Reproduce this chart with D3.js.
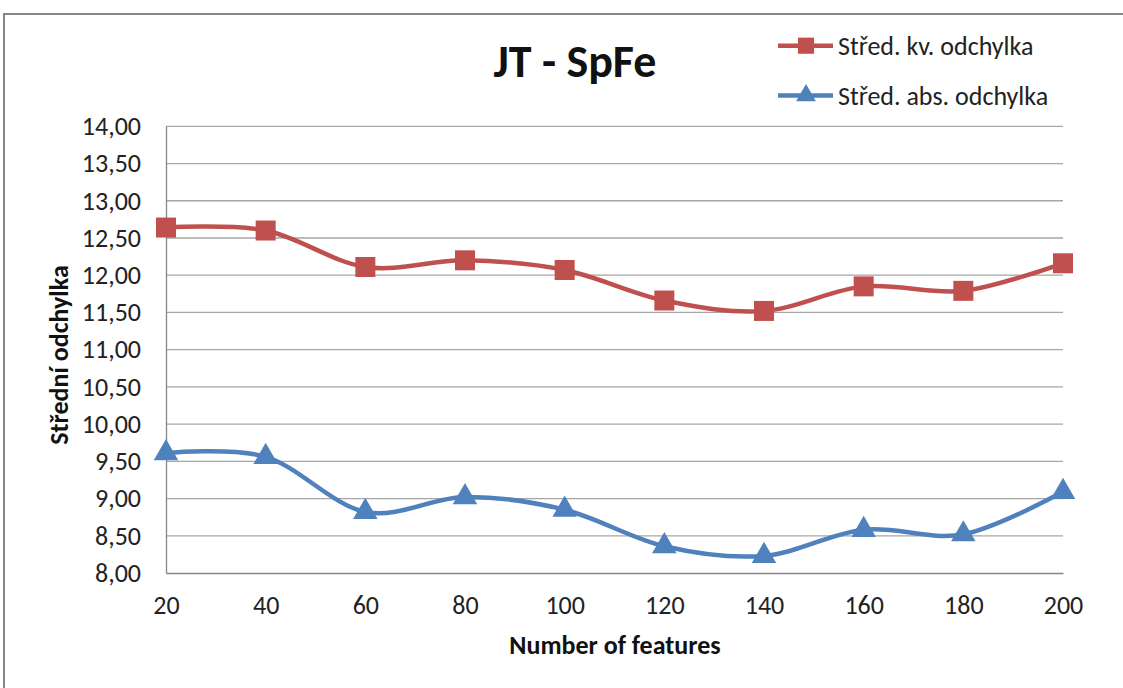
<!DOCTYPE html>
<html><head><meta charset="utf-8">
<script src="https://cdn.jsdelivr.net/npm/d3@7"></script>
<style>
html,body{margin:0;padding:0;background:#fff;}
svg text{font-family:Carlito,Calibri,"Open Sans","Liberation Sans",sans-serif;}
</style></head>
<body><svg id="c" width="1123" height="688"></svg>
<script>
const categories = [20, 40, 60, 80, 100, 120, 140, 160, 180, 200];
const kvValues = [12.64, 12.60, 12.11, 12.20, 12.07, 11.66, 11.52, 11.85, 11.79, 12.16];
const absValues = [9.61, 9.56, 8.82, 9.02, 8.85, 8.36, 8.23, 8.58, 8.52, 9.09];
const yTicks = [8, 8.5, 9, 9.5, 10, 10.5, 11, 11.5, 12, 12.5, 13, 13.5, 14];
const seriesNames = ["Střed. kv. odchylka", "Střed. abs. odchylka"];
const title = "JT - SpFe";
const xTitle = "Number of features";
const yTitle = "Střední odchylka";

const svg = d3.select("#c");
const m = {left:166, right:1063, top:126.3, bottom:573};
const x = d3.scalePoint().domain(categories).range([m.left, m.right]);
const y = d3.scaleLinear().domain([8, 14]).range([m.bottom, m.top]);

// chart frame
svg.append("rect").attr("x",4).attr("y",14).attr("width",1130).attr("height",700)
  .attr("fill","none").attr("stroke","#868686").attr("stroke-width",2);

// gridlines
svg.append("g").selectAll("line").data(yTicks.slice(1)).join("line")
  .attr("x1",m.left).attr("x2",m.right).attr("y1",d=>y(d)).attr("y2",d=>y(d))
  .attr("stroke","#a6a6a6").attr("stroke-width",1.3);

// axes
const fmt = d => d.toFixed(2).replace(".", ",");
const yAxis = svg.append("g").attr("transform",`translate(${m.left},0)`)
  .call(d3.axisLeft(y).tickValues(yTicks).tickFormat(fmt).tickSize(0).tickPadding(25));
yAxis.select(".domain").attr("stroke","#868686").attr("stroke-width",1.3);
yAxis.selectAll("text").attr("font-size",26).attr("fill","#222");

const xAxis = svg.append("g").attr("transform",`translate(0,${m.bottom})`)
  .call(d3.axisBottom(x).tickSize(0).tickPadding(23));
xAxis.select(".domain").attr("stroke","#868686").attr("stroke-width",1.3);
xAxis.selectAll("text").attr("font-size",26).attr("fill","#222");

// titles
svg.append("text").attr("x",575).attr("y",77).attr("text-anchor","middle")
  .attr("font-size",46).attr("font-weight","bold").attr("fill","#111").text(title);
svg.append("text").attr("x",615).attr("y",654).attr("text-anchor","middle")
  .attr("font-size",26).attr("font-weight","bold").attr("fill","#111").text(xTitle);
svg.append("text").attr("transform","translate(68,355) rotate(-90)").attr("text-anchor","middle")
  .attr("font-size",26).attr("font-weight","bold").attr("fill","#111").text(yTitle);

const colors = ["#C0504D", "#4F81BD"];
const line = d3.line().x((d,i)=>x(categories[i])).y(d=>y(d)).curve(d3.curveCatmullRom.alpha(0));
const sq = d3.symbol().type(d3.symbolSquare).size(400);
const tri = d3.symbol().type(d3.symbolTriangle).size(260);

[kvValues, absValues].forEach((vals, s) => {
  svg.append("path").datum(vals).attr("d", line).attr("fill","none")
    .attr("stroke", colors[s]).attr("stroke-width",4.5);
  svg.append("g").selectAll("path").data(vals).join("path")
    .attr("transform",(d,i)=>`translate(${x(categories[i])},${y(d)})`)
    .attr("d", s===0 ? sq : tri).attr("fill", colors[s]);
});

// legend
const legY = [45.7, 95.5];
seriesNames.forEach((n, s) => {
  const g = svg.append("g");
  g.append("line").attr("x1",778).attr("x2",833).attr("y1",legY[s]).attr("y2",legY[s])
    .attr("stroke",colors[s]).attr("stroke-width",4.5);
  g.append("path").attr("transform",`translate(806,${legY[s]})`)
    .attr("d", s===0 ? d3.symbol().type(d3.symbolSquare).size(260)() : d3.symbol().type(d3.symbolTriangle).size(170)())
    .attr("fill",colors[s]);
  g.append("text").attr("x",838).attr("y",legY[s]+9).attr("font-size",26).attr("fill","#222").text(n);
});
</script></body></html>
